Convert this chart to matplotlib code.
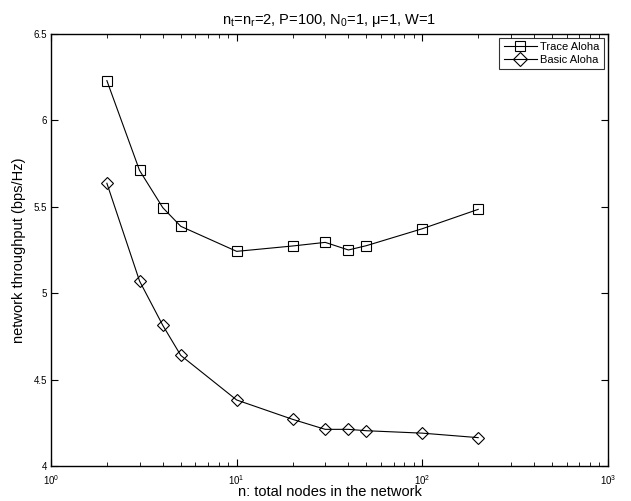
import matplotlib
matplotlib.use('Agg')
import matplotlib.pyplot as plt
from matplotlib.ticker import LogLocator, NullFormatter

plt.rcParams['font.family'] = ['Liberation Sans', 'DejaVu Sans']
plt.rcParams['mathtext.fontset'] = 'custom'
plt.rcParams['mathtext.rm'] = 'Liberation Sans'
plt.rcParams['mathtext.it'] = 'Liberation Sans'

# data
nodes = [2, 3, 4, 5, 10, 20, 30, 40, 50, 100, 200]
trace_aloha = [6.23, 5.71, 5.495, 5.387, 5.242, 5.273, 5.294, 5.25, 5.275, 5.373, 5.485]
basic_aloha = [5.636, 5.07, 4.814, 4.64, 4.382, 4.27, 4.212, 4.212, 4.204, 4.19, 4.164]

fig = plt.figure(figsize=(6.31, 5.01), dpi=100)
ax = fig.add_axes([0.0808, 0.0699, 0.8827, 0.8623])

ax.plot(nodes, trace_aloha, color='black', lw=0.8, marker='s', ms=6.5,
        mfc='none', mec='black', mew=0.8, label='Trace Aloha')
ax.plot(nodes, basic_aloha, color='black', lw=0.8, marker='D', ms=6.2,
        mfc='none', mec='black', mew=0.8, label='Basic Aloha')

ax.set_xscale('log')
ax.set_xlim(1, 1000)
ax.set_ylim(4, 6.5)
ax.set_yticks([4, 4.5, 5, 5.5, 6, 6.5])
ax.set_yticklabels(['4', '4.5', '5', '5.5', '6', '6.5'])
ax.xaxis.set_minor_locator(LogLocator(base=10, subs=range(2, 10)))
ax.xaxis.set_minor_formatter(NullFormatter())

ax.tick_params(which='both', direction='in', top=True, right=True, labelsize=7)
ax.tick_params(which='major', length=5, width=0.8, pad=3)
ax.tick_params(which='minor', length=3, width=0.6)
ax.tick_params(axis='x', which='major', pad=5)
for s in ax.spines.values():
    s.set_linewidth(1.0)

ax.set_xlabel('n: total nodes in the network', fontsize=10.5, labelpad=-1)
ax.set_ylabel('network throughput (bps/Hz)', fontsize=10.5, labelpad=5)
ax.set_title(r'n$_\mathrm{t}$=n$_\mathrm{r}$=2, P=100, N$_\mathrm{0}$=1, $\mu$=1, W=1',
             fontsize=10.5, pad=7)

leg = ax.legend(loc='upper right', fontsize=8, frameon=True, fancybox=False,
                edgecolor='black', handlelength=3.0, borderpad=0.4,
                labelspacing=0.2, handletextpad=0.3, markerscale=1.2,
                borderaxespad=0.35)
leg.get_frame().set_linewidth(0.8)

plt.savefig('out.png', dpi=100)
